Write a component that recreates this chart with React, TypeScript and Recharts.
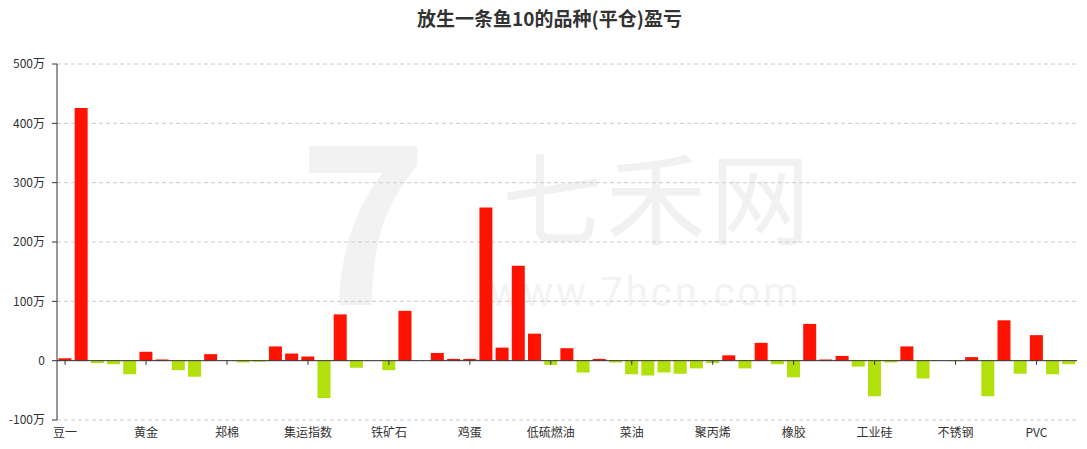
import { BarChart, Bar, Cell, XAxis, YAxis, CartesianGrid, ReferenceLine } from 'recharts';

const categories = [
  '豆一', '豆二', '豆粕', '豆油', '棕榈油', '黄金', '白银', '沪铜', '沪铝', '沪锌',
  '郑棉', '白糖', '苹果', '红枣', '棉纱', '集运指数', '螺纹钢', '热卷', '焦炭', '焦煤',
  '铁矿石', '硅铁', '锰硅', '玉米', '淀粉', '鸡蛋', '生猪', '原油', '燃油', '沥青',
  '低硫燃油', '甲醇', 'PTA', '短纤', '菜粕', '菜油', '花生', '塑料', '乙二醇', '苯乙烯',
  '聚丙烯', '纯碱', '玻璃', '尿素', '纸浆', '橡胶', '20号胶', '丁二烯橡胶', '液化气', '烧碱',
  '工业硅', '碳酸锂', '多晶硅', '沪镍', '沪锡', '不锈钢', '沪铅', '线材', '氧化铝', '对二甲苯',
  'PVC', '瓶片', '纤维板',
];

// 盈亏，单位：万
const pnl = [
  4, 426, -4, -6, -23, 15, 2, -16, -27, 11,
  -0.5, -3, -2, 24, 12, 7, -63, 78, -12, -0.5,
  -16, 84, -0.5, 13, 3, 3, 258, 22, 160, 45.5,
  -7, 21, -20, 3, -3, -23, -25, -20, -22, -13,
  -4, 9, -13, 30, -6, -28, 62, 2, 8, -10,
  -60, -3, 24, -30, -0.5, -1, 6, -60, 68, -22,
  43, -23, -6,
];

const yTicks = [-100, 0, 100, 200, 300, 400, 500];

const data = categories.map((name, i) => ({ name, value: pnl[i] }));
const labeled = categories.filter((_, i) => i % 5 === 0);

const RED = '#ff1200';
const GREEN = '#b2e00b';
const FONT = '"Noto Sans CJK SC", "Noto Sans", sans-serif';

export default function App() {
  return (
    <div style={{ position: 'relative', width: 1087, height: 449, fontFamily: FONT, background: '#fff' }}>
      <style>{'body{margin:0}'}</style>
      {/* watermark */}
      <div style={{ position: 'absolute', left: 298, top: 110, fontSize: 220, fontWeight: 700, color: '#f2f2f2', lineHeight: 0.9 }}>
        7
      </div>
      <div style={{ position: 'absolute', left: 502, top: 144, fontSize: 100, color: '#f1f1f1', lineHeight: 1, letterSpacing: 4 }}>
        七禾网
      </div>
      <div
        style={{
          position: 'absolute', left: 490, top: 273, fontSize: 40, color: '#f3f3f3', lineHeight: 1,
          letterSpacing: 3, fontFamily: 'Roboto, sans-serif',
        }}
      >
        www.7hcn.com
      </div>
      <div
        style={{
          position: 'absolute', left: 6, width: 1087, top: 4, textAlign: 'center',
          fontSize: 19, fontWeight: 700, color: '#333',
        }}
      >
        放生一条鱼10的品种(平仓)盈亏
      </div>
      <div style={{ position: 'absolute', left: 0, top: 0 }}>
        <BarChart
          width={1087}
          height={449}
          data={data}
          margin={{ top: 64, right: 10, left: 0, bottom: 0 }}
          barCategoryGap="9%"
        >
          <CartesianGrid vertical={false} stroke="#ccc" strokeDasharray="4 3" />
          <XAxis
            dataKey="name"
            interval={4}
            height={29}
            axisLine={false}
            tickLine={false}
            tickSize={0}
            tickMargin={8}
            tick={{ fontSize: 12, fill: '#333', fontFamily: FONT }}
          />
          <YAxis
            domain={[-100, 500]}
            ticks={yTicks}
            width={57}
            interval={0}
            stroke="#333"
            tickSize={5}
            tickMargin={7}
            tick={{ fontSize: 12, fill: '#333', fontFamily: FONT }}
            tickFormatter={(v: number) => (v === 0 ? '0' : `${v}万`)}
          />
          <Bar dataKey="value" isAnimationActive={false}>
            {data.map((d) => (
              <Cell key={d.name} fill={d.value >= 0 ? RED : GREEN} />
            ))}
          </Bar>
          <ReferenceLine y={0} stroke="#333" />
          {labeled.map((c) => (
            <ReferenceLine
              key={c}
              segment={[{ x: c, y: 0 }, { x: c, y: -7 }]}
              stroke="#333"
            />
          ))}
        </BarChart>
      </div>
    </div>
  );
}
